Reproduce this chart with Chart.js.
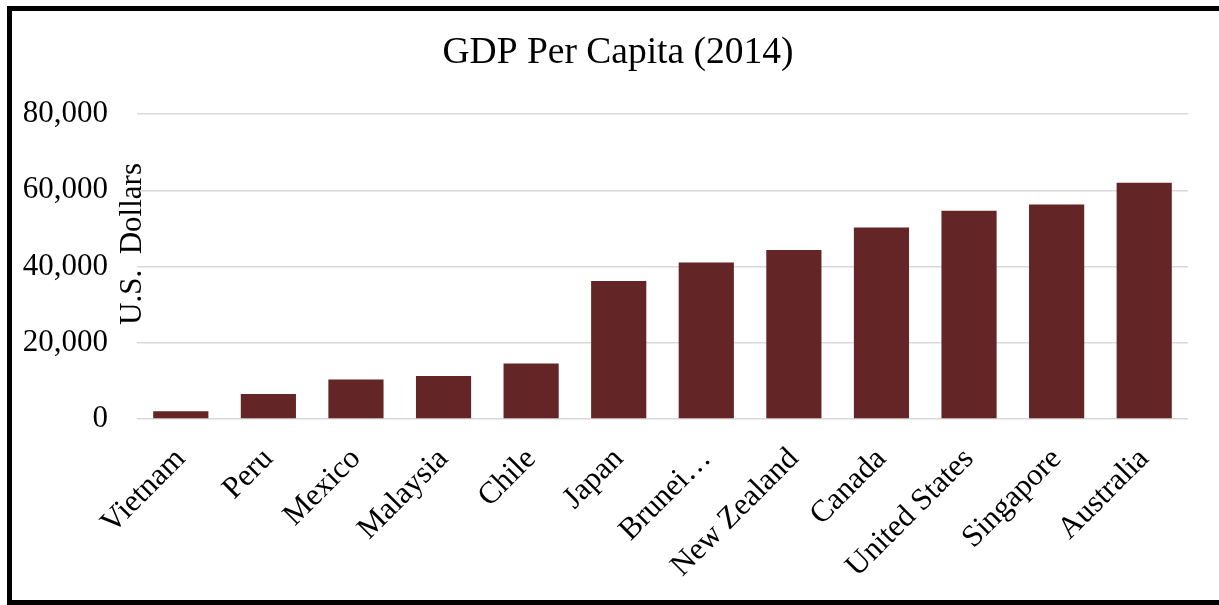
<!DOCTYPE html>
<html>
<head>
<meta charset="utf-8">
<script src="https://cdn.jsdelivr.net/npm/chart.js@4.4.1/dist/chart.umd.min.js"></script>
<style>
    html, body { margin: 0; padding: 0; background: #fff; overflow: hidden; }
    #frame {
        position: absolute; left: 7px; top: 6px;
        width: 1212px; height: 589px;
        border: 5px solid #000;
        border-right: none;
    }
    #wrap { position: absolute; left: 0; top: 0; width: 1207px; height: 589px; }
</style>
</head>
<body>
<div id="frame"><div id="wrap"><canvas id="myChart"></canvas></div></div>
<script>
// values
const categories = ['Vietnam', 'Peru', 'Mexico', 'Malaysia', 'Chile', 'Japan', 'Brunei…',
    'New Zealand', 'Canada', 'United States', 'Singapore', 'Australia']
const gdpPerCapita = [2050, 6540, 10330, 11310, 14530, 36190, 41040, 44340, 50230, 54630, 56290, 61980]
const yTicks = [0, 20000, 40000, 60000, 80000]
const chartTitle = 'GDP Per Capita (2014)'
const yTitle = 'U.S.  Dollars'

const serif = '"Liberation Serif", "Times New Roman", serif'
Chart.defaults.font.family = serif
Chart.defaults.color = '#000'

// excel puts the axis title between the tick labels and the plot, so draw it by hand
const titles = {
    id: 'titles',
    afterDraw(chart) {
        const ctx = chart.ctx
        ctx.save()
        ctx.fillStyle = '#000'
        ctx.textAlign = 'center'
        ctx.textBaseline = 'alphabetic'
        ctx.font = '37.5px ' + serif
        ctx.fillText(chartTitle, 606, 52)
        ctx.font = '31px ' + serif
        ctx.translate(129, 233)
        ctx.rotate(-Math.PI / 2)
        ctx.fillText(yTitle, 0, 0)
        ctx.restore()
    }
}

const ctx = document.getElementById('myChart').getContext('2d')
window.myChart = new Chart(ctx, {
    type: 'bar',
    data: {
        labels: categories,
        datasets: [{
            data: gdpPerCapita,
            backgroundColor: '#632526',
            categoryPercentage: 1,
            barPercentage: 0.63
        }]
    },
    options: {
        responsive: true,
        maintainAspectRatio: false,
        animation: false,
        layout: { padding: { top: 103, right: 31, left: 0, bottom: 0 } },
        plugins: {
            legend: { display: false },
            tooltip: { enabled: false }
        },
        scales: {
            x: {
                grid: { display: false },
                border: { display: false },
                ticks: {
                    font: { size: 31 },
                    autoSkip: false,
                    maxRotation: 45,
                    minRotation: 45,
                    padding: 14
                },
                afterFit: s => { s.height = 181 }
            },
            y: {
                min: 0,
                max: 80000,
                border: { display: false },
                grid: { color: '#d9d9d9', lineWidth: 1.5, drawTicks: false },
                afterBuildTicks: s => { s.ticks = yTicks.map(v => ({ value: v })) },
                ticks: {
                    font: { size: 31 },
                    padding: 29,
                    callback: v => v.toLocaleString('en-US')
                },
                afterFit: s => { s.width = 125 }
            }
        }
    },
    plugins: [titles]
})
</script>
</body>
</html>
